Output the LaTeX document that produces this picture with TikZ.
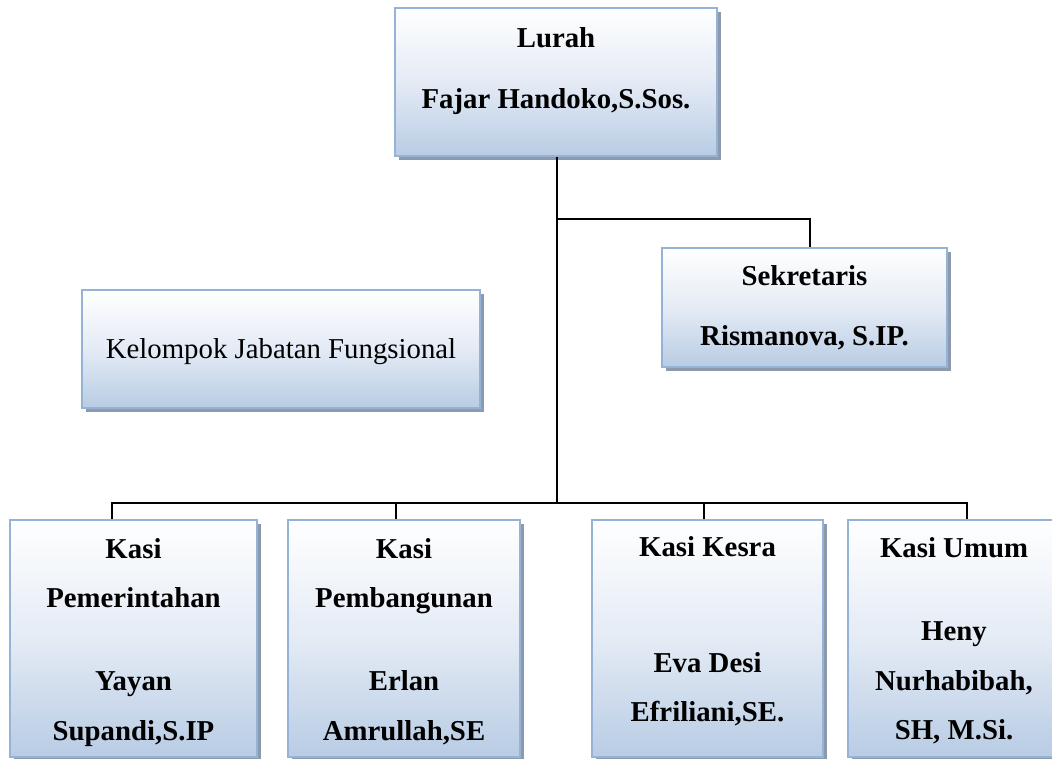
\documentclass[tikz,border=0pt]{standalone}
\usepackage{fontspec}
\setmainfont{Liberation Serif}
\usetikzlibrary{shadows}
\definecolor{bordc}{HTML}{95B3D7}
\definecolor{fillc}{HTML}{B8CCE4}
\definecolor{midc}{HTML}{E4EBF5}
\definecolor{shadc}{HTML}{8D99AC}
\tikzset{
  orgbox/.style={draw=bordc, line width=1.6pt, inner sep=0pt,
    top color=white, bottom color=fillc, middle color=midc,
    drop shadow={shadow xshift=3.5pt, shadow yshift=-3.5pt, fill=shadc, opacity=1}},
  bt/.style={font=\fontsize{28.8}{34}\selectfont\bfseries, anchor=base, inner sep=0pt},
  rt/.style={font=\fontsize{28.8}{34}\selectfont, anchor=base, inner sep=0pt},
  conn/.style={draw=black, line width=1.5pt}
}
\begin{document}
\begin{tikzpicture}[x=1pt,y=-1pt]
\useasboundingbox (0,0) rectangle (1052,758);
\clip (0,0) rectangle (1052,758);
% boxes
\node[orgbox, minimum width=322pt, minimum height=148pt] (lurah) at (556,82) {};
\node[orgbox, minimum width=285pt, minimum height=119pt] (sek) at (804.5,307.5) {};
\node[orgbox, minimum width=398pt, minimum height=118pt] (kjf) at (281,349) {};
\node[orgbox, minimum width=247pt, minimum height=237pt] (k1) at (133.5,638.5) {};
\node[orgbox, minimum width=232pt, minimum height=237pt] (k2) at (404,638.5) {};
\node[orgbox, minimum width=231pt, minimum height=237pt] (k3) at (707.5,638.5) {};
\node[orgbox, minimum width=212pt, minimum height=237pt] (k4) at (954,638.5) {};
% texts
\node[bt] (l1) at (556,47) {Lurah};
\node[bt] (l2) at (556,108) {Fajar Handoko,S.Sos.};
\node[bt] (s1) at (804.5,285) {Sekretaris};
\node[bt] (s2) at (804.5,345) {Rismanova, S.IP.};
\node[rt] (f1) at (281,358) {Kelompok Jabatan Fungsional};
\node[bt] (a1) at (133.5,558) {Kasi};
\node[bt] (a2) at (133.5,607) {Pemerintahan};
\node[bt] (a3) at (133.5,690) {Yayan};
\node[bt] (a4) at (133.5,740) {Supandi,S.IP};
\node[bt] (b1) at (404,558) {Kasi};
\node[bt] (b2) at (404,607) {Pembangunan};
\node[bt] (b3) at (404,690) {Erlan};
\node[bt] (b4) at (404,740) {Amrullah,SE};
\node[bt] (c1) at (707.5,556) {Kasi Kesra};
\node[bt] (c2) at (707.5,672) {Eva Desi};
\node[bt] (c3) at (707.5,721) {Efriliani,SE.};
\node[bt] (d1) at (954,557) {Kasi Umum};
\node[bt] (d2) at (954,640) {Heny};
\node[bt] (d3) at (954,690) {Nurhabibah,};
\node[bt] (d4) at (954,739) {SH, M.Si.};
% connectors
\coordinate (jt) at (557,219);
\coordinate (jb) at (557,503);
\draw[conn] (lurah.south -| jt) -- (jb);
\draw[conn] (jt) -| ([xshift=5.5pt]sek.north);
\draw[conn] (jb) -| ([xshift=-21.5pt]k1.north);
\draw[conn] (jb) -| ([xshift=-8pt]k2.north);
\draw[conn] (jb) -| ([xshift=-3.5pt]k3.north);
\draw[conn] (jb) -| ([xshift=13pt]k4.north);
\end{tikzpicture}
\end{document}
